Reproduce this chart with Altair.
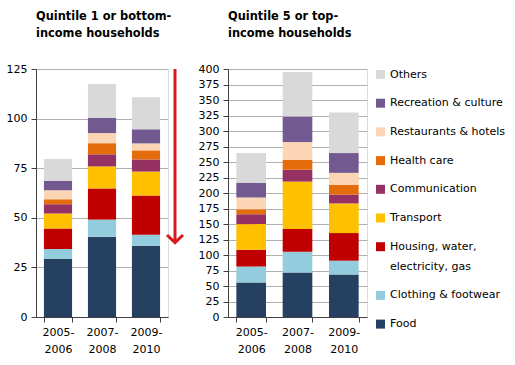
import altair as alt
import pandas as pd

# Survey periods and expenditure groups (stacked bottom to top)
periods = ["2005-2006", "2007-2008", "2009-2010"]
categories = [
    "Food",
    "Clothing & footwear",
    "Housing, water, electricity, gas",
    "Transport",
    "Communication",
    "Health care",
    "Restaurants & hotels",
    "Recreation & culture",
    "Others",
]
colors = ["#254061", "#93CDDD", "#C00000", "#FFC000", "#953163",
          "#E46C0A", "#FCD5B5", "#725990", "#D9D9D9"]

# Monthly spending per group, bottom income quintile
q1_2005 = [29.4, 4.9, 10.3, 7.6, 4.6, 2.5, 4.6, 4.6, 11.1]
q1_2007 = [40.5, 8.6, 15.7, 11.1, 6.1, 5.6, 5.1, 7.6, 17.2]
q1_2009 = [35.9, 5.6, 19.7, 12.1, 6.1, 4.6, 3.5, 7.1, 16.2]

# Monthly spending per group, top income quintile
q5_2005 = [55.8, 25.5, 27.1, 41.4, 15.9, 8.0, 19.1, 23.9, 47.8]
q5_2007 = [71.7, 33.5, 36.7, 76.5, 19.1, 15.9, 28.7, 41.4, 71.7]
q5_2009 = [68.5, 22.3, 44.6, 47.8, 14.3, 15.9, 19.1, 31.9, 65.3]

# Downward arrow beside the bottom-quintile panel
arrow_top = [125]
arrow_tip = [37.5]

q1_ticks = [0, 25, 50, 75, 100, 125]
q5_ticks = list(range(0, 401, 25))

FONT = "DejaVu Sans"


def long_table(series):
    rows = []
    for period, values in zip(periods, series):
        for i, (cat, v) in enumerate(zip(categories, values)):
            rows.append({"period": period, "category": cat, "value": v, "idx": i})
    return pd.DataFrame(rows)


legend_order = categories[::-1]
legend_colors = colors[::-1]

color_enc = alt.Color(
    "category:N",
    scale=alt.Scale(domain=legend_order, range=legend_colors),
    legend=alt.Legend(
        title=None,
        orient="right",
        symbolType="square",
        symbolSize=81,
        symbolStrokeWidth=0,
        labelFont=FONT,
        labelFontSize=11,
        labelColor="#000000",
        rowPadding=16.7,
        labelLimit=200,
        offset=7,
        labelExpr="datum.label == 'Housing, water, electricity, gas' ? ['Housing, water,', 'electricity, gas'] : datum.label",
    ),
)


def x_enc():
    return alt.X(
        "period:N",
        sort=periods,
        title=None,
        scale=alt.Scale(paddingInner=0.36, paddingOuter=0.18),
        axis=alt.Axis(
            labelAngle=0,
            tickBand="extent",
            labelExpr="[slice(datum.label, 0, 5), slice(datum.label, 5)]",
            labelLineHeight=17,
            labelPadding=4,
            labelFont=FONT,
            labelFontSize=11,
            labelColor="#000000",
            domainColor="#404040",
            tickColor="#404040",
            tickSize=5,
            grid=False,
        ),
    )


def y_enc(top, ticks):
    return alt.Y(
        "value:Q",
        stack="zero",
        title=None,
        scale=alt.Scale(domain=[0, top], nice=False),
        axis=alt.Axis(
            values=ticks,
            grid=True,
            gridColor="#B0B0B0",
            labelFont=FONT,
            labelFontSize=11,
            labelColor="#000000",
            labelPadding=4,
            domainColor="#404040",
            tickColor="#404040",
            tickSize=5,
        ),
    )


def title(lines):
    return alt.Title(lines, anchor="start", frame="group", font=FONT, fontSize=11.4,
                     fontWeight="bold", color="#000000", offset=23.5, lineHeight=17)


df1 = long_table([q1_2005, q1_2007, q1_2009])
df5 = long_table([q5_2005, q5_2007, q5_2009])

bars1 = alt.Chart(df1).mark_bar().encode(
    x=x_enc(), y=y_enc(125, q1_ticks), color=color_enc,
    order=alt.Order("idx:Q", sort="ascending"),
)

arrow_df = pd.DataFrame({"value": arrow_top, "tip": arrow_tip})
shaft = alt.Chart(arrow_df).mark_rule(color="#D7191C", strokeWidth=3).encode(
    x=alt.value(139), y="value:Q", y2="tip:Q"
)
head = alt.Chart(arrow_df).mark_point(
    shape="M-1,-0.95L0,0L1,-0.95", size=256, filled=False,
    color="#D7191C", strokeWidth=3, opacity=1,
).encode(x=alt.value(139), y=alt.Y("tip:Q"))

left = alt.layer(bars1, shaft, head).properties(
    width=132, height=248,
    title=title(["Quintile 1 or bottom-", "income households"]),
)

bars5 = alt.Chart(df5).mark_bar().encode(
    x=x_enc(), y=y_enc(400, q5_ticks), color=color_enc,
    order=alt.Order("idx:Q", sort="ascending"),
)
right = bars5.properties(
    width=139, height=248,
    title=title(["Quintile 5 or top-", "income households"]),
)

chart = alt.hconcat(left, right, spacing=7).configure_view(stroke=None).configure(
    background="#FFFFFF",
    padding={"left": 5, "right": 5, "top": 10, "bottom": 5},
    style={"guide-label": {"lineHeight": 20}},
)

chart.save("out.html", embed_options={"renderer": "svg", "actions": False})
